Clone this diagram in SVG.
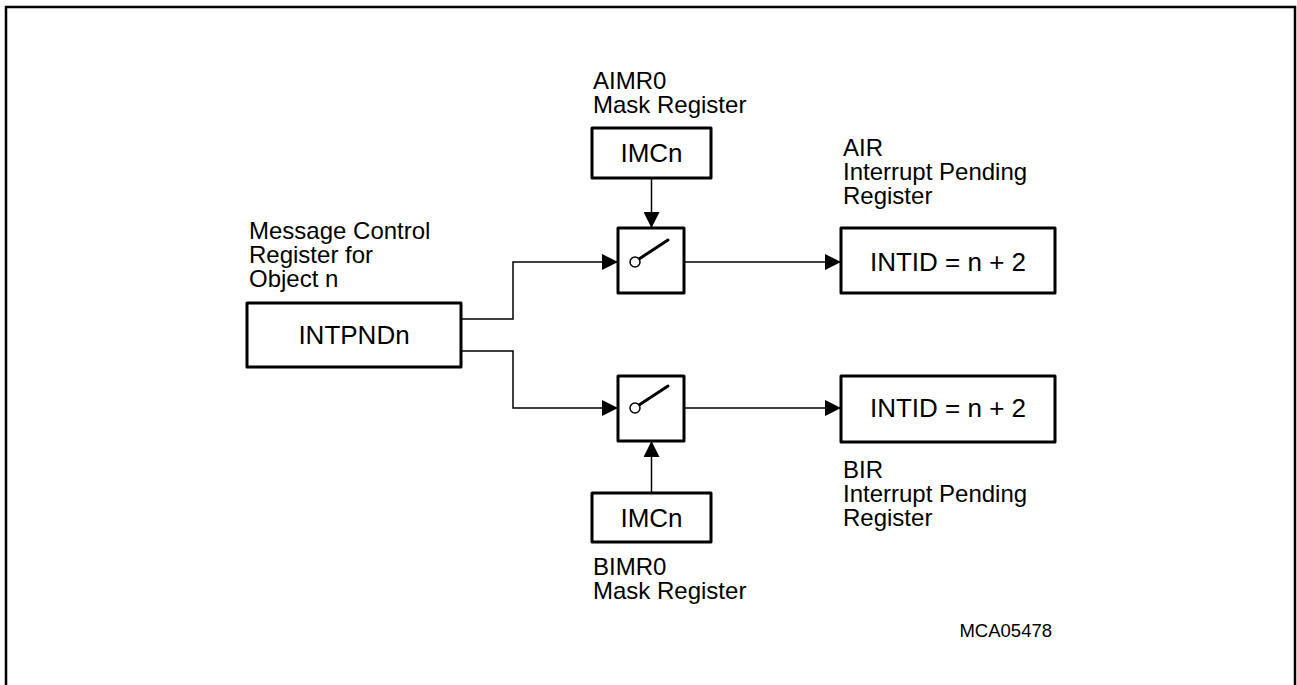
<svg xmlns="http://www.w3.org/2000/svg" width="1297" height="685" viewBox="0 0 1297 685">
<style>
.box{fill:#fff;stroke:#000;stroke-width:3;stroke-linejoin:round}
.ln{fill:none;stroke:#000;stroke-width:1.5}
.lever{stroke:#000;stroke-width:3;stroke-linecap:round}
.lbl{font-family:"Liberation Sans",Arial,sans-serif;font-size:24px;fill:#000}
.btxt{font-family:"Liberation Sans",Arial,sans-serif;font-size:26px;fill:#000;text-anchor:middle}
.small{font-family:"Liberation Sans",Arial,sans-serif;font-size:18.5px;fill:#000;text-anchor:end}
</style>
<defs>
<marker id="ah" viewBox="0 0 16 16" refX="16" refY="8" markerWidth="16" markerHeight="16" markerUnits="userSpaceOnUse" orient="auto">
<path d="M0,0 L16,8 L0,16 Z" fill="#000"/>
</marker>
</defs>
<rect x="6" y="7" width="1289" height="690" fill="none" stroke="#000" stroke-width="2.5"/>
<g id="connectors">
<path class="ln" d="M461,319 H513 V262 H618" marker-end="url(#ah)"/>
<path class="ln" d="M461,351 H513 V408 H618" marker-end="url(#ah)"/>
<path class="ln" d="M651.5,178 V228" marker-end="url(#ah)"/>
<path class="ln" d="M651.5,493 V441" marker-end="url(#ah)"/>
<path class="ln" d="M667,262 H841" marker-end="url(#ah)"/>
<path class="ln" d="M667,408 H841" marker-end="url(#ah)"/>
</g>
<g id="intpnd">
<rect class="box" x="247" y="303" width="214" height="64"/>
<text class="btxt" x="354" y="344">INTPNDn</text>
<text class="lbl" x="249" y="239">Message Control</text>
<text class="lbl" x="249" y="263">Register for</text>
<text class="lbl" x="249" y="287">Object n</text>
</g>
<g id="aimr">
<rect class="box" x="592" y="128" width="119" height="50"/>
<text class="btxt" x="651.5" y="162">IMCn</text>
<text class="lbl" x="593" y="89">AIMR0</text>
<text class="lbl" x="593" y="113">Mask Register</text>
</g>
<g id="switchA">
<rect class="box" x="618" y="228" width="66" height="65"/>
<line class="lever" x1="639" y1="259" x2="668" y2="240"/>
<circle cx="635" cy="262" r="5" fill="#fff" stroke="#000" stroke-width="1.5"/>
</g>
<g id="air">
<rect class="box" x="841" y="228" width="214" height="65"/>
<text class="btxt" x="948" y="271">INTID = n + 2</text>
<text class="lbl" x="843" y="156">AIR</text>
<text class="lbl" x="843" y="180">Interrupt Pending</text>
<text class="lbl" x="843" y="204">Register</text>
</g>
<g id="switchB">
<rect class="box" x="618" y="376" width="66" height="65"/>
<line class="lever" x1="639" y1="405" x2="668" y2="386"/>
<circle cx="635" cy="408" r="5" fill="#fff" stroke="#000" stroke-width="1.5"/>
</g>
<g id="bir">
<rect class="box" x="841" y="376" width="214" height="66"/>
<text class="btxt" x="948" y="417">INTID = n + 2</text>
<text class="lbl" x="843" y="478">BIR</text>
<text class="lbl" x="843" y="502">Interrupt Pending</text>
<text class="lbl" x="843" y="526">Register</text>
</g>
<g id="bimr">
<rect class="box" x="592" y="493" width="119" height="49"/>
<text class="btxt" x="651.5" y="527">IMCn</text>
<text class="lbl" x="593" y="575">BIMR0</text>
<text class="lbl" x="593" y="599">Mask Register</text>
</g>
<g id="ref">
<text class="small" x="1052" y="637">MCA05478</text>
</g>
</svg>
